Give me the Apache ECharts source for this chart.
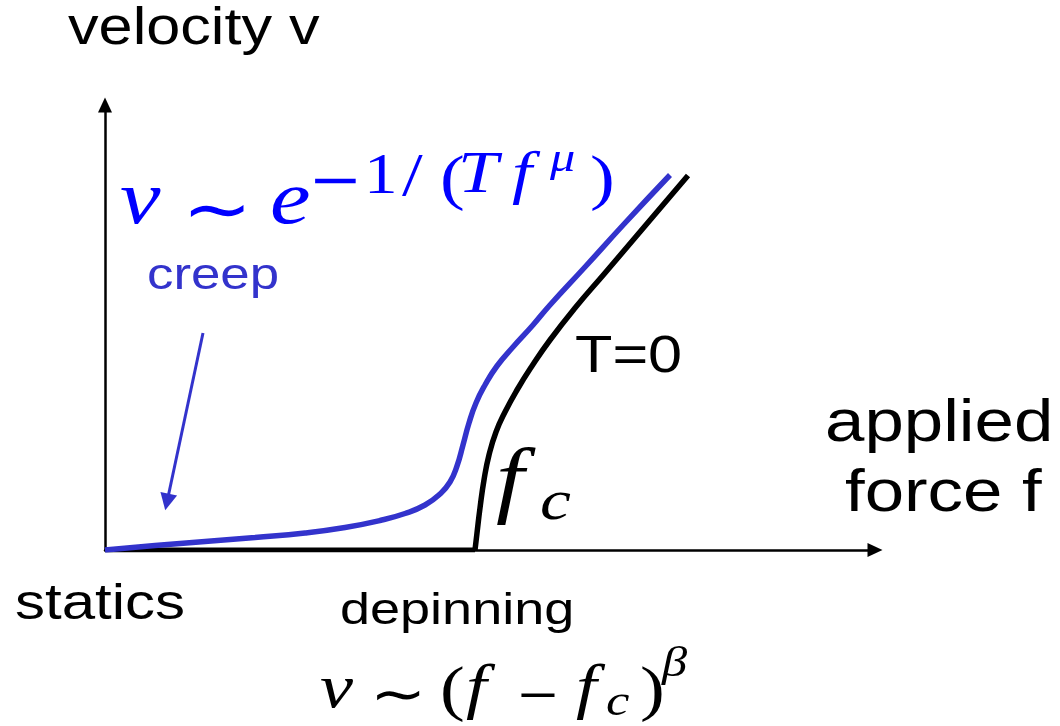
<!DOCTYPE html>
<html>
<head>
<meta charset="utf-8">
<script src="https://cdn.jsdelivr.net/npm/echarts@6/dist/echarts.min.js"></script>
<style>
  html, body { margin: 0; padding: 0; background: #fff; }
  #chart { width: 1060px; height: 726px; }
</style>
</head>
<body>
<div id="chart"></div>
<script>
// Velocity v versus applied force f (arbitrary units).
// T = 0: no motion below the threshold fc, then the depinning branch.
const staticBranch = [[0, 0], [3.70, 0]];
const depinningBranch = [
  [3.70, 0], [3.72, 0.17], [3.75, 0.42], [3.79, 0.70], [3.84, 0.95],
  [3.91, 1.18], [4.00, 1.38], [4.12, 1.60], [4.27, 1.84], [4.45, 2.10],
  [4.70, 2.42], [5.00, 2.77], [5.40, 3.24], [5.83, 3.745]
];
// Finite temperature: thermally activated creep below fc.
const creepCurve = [
  [0, 0], [0.5, 0.045], [1.0, 0.085], [1.5, 0.125], [2.0, 0.17],
  [2.4, 0.225], [2.75, 0.295], [3.0, 0.365], [3.2, 0.45], [3.35, 0.56],
  [3.45, 0.68], [3.52, 0.84], [3.58, 1.05], [3.64, 1.27], [3.71, 1.47],
  [3.80, 1.65], [3.92, 1.84], [4.08, 2.03], [4.28, 2.25], [4.45, 2.45],
  [4.80, 2.83], [5.20, 3.27], [5.65, 3.75]
];
// Pointer from the "creep" label down to the creep regime.
const creepPointer = [[0.98, 2.17], [0.62, 0.48]];

const BLUE_LINE = '#3333cc';
const BLUE_MATH = '#0000ff';
const SANS = '"Liberation Sans", Arial, sans-serif';
const SERIF = '"Liberation Serif", "Times New Roman", serif';
const STRETCH = 1.2;

// Text placed by its left edge and baseline.
function txt(text, left, baseline, size, o) {
  o = o || {};
  const y = o.mid != null ? o.mid : baseline - 0.34 * size;
  return {
    type: 'text', x: left, y: y, scaleX: o.sx || STRETCH, silent: true, z: 20,
    style: {
      text: text, x: 0, y: 0,
      fill: o.color || '#000',
      fontSize: size,
      fontFamily: o.family || SANS,
      fontStyle: o.italic ? 'italic' : 'normal',
      align: 'left', verticalAlign: 'middle'
    }
  };
}
function mi(text, left, baseline, size, color) {
  return txt(text, left, baseline, size, { family: SERIF, italic: true, color: color });
}
function mu(text, left, baseline, size, color) {
  return txt(text, left, baseline, size, { family: SERIF, color: color });
}
function sym(text, left, mid, size, color) {
  return txt(text, left, 0, size, { family: '"DejaVu Sans", sans-serif', mid: mid, color: color });
}

const chart = echarts.init(document.getElementById('chart'));

const axisCommon = {
  type: 'value',
  axisLine: {
    show: true, onZero: true,
    symbol: ['none', 'triangle'], symbolSize: [14, 15],
    lineStyle: { color: '#000', width: 2.5 }
  },
  axisTick: { show: false },
  axisLabel: { show: false },
  splitLine: { show: false }
};

chart.setOption({
  animation: false,
  backgroundColor: '#fff',
  grid: { left: 105, right: 185, top: 105, bottom: 176, containLabel: false },
  xAxis: Object.assign({}, axisCommon, { min: 0, max: 7.7 }),
  yAxis: Object.assign({}, axisCommon, { min: 0, max: 4.45 }),
  series: [
    {
      type: 'line', data: staticBranch, symbol: 'none',
      lineStyle: { color: '#000', width: 5 }, z: 3
    },
    {
      type: 'line', data: depinningBranch, symbol: 'none', smooth: 0.5,
      lineStyle: { color: '#000', width: 5.5 }, z: 3
    },
    {
      type: 'line', data: creepCurve, symbol: 'none', smooth: 0.5,
      lineStyle: { color: BLUE_LINE, width: 5.5 }, z: 4
    },
    {
      type: 'lines', coordinateSystem: 'cartesian2d',
      data: [{ coords: creepPointer }],
      symbol: ['none', 'triangle'], symbolSize: [14, 17],
      lineStyle: { color: BLUE_LINE, width: 3, opacity: 1 },
      z: 4
    }
  ],
  graphic: [
    // axis titles and regime names
    txt('velocity v', 68, 47, 51),
    txt('applied', 825, 445, 59),
    txt('force f', 845, 515, 59),
    txt('statics', 15, 622, 50),
    txt('depinning', 340, 627, 45),
    txt('creep', 147, 292, 44, { color: BLUE_LINE }),
    txt('T=0', 575, 375, 51),

    // v ~ e^{-1/(T f^mu)}
    mi('v', 120, 229, 76, BLUE_MATH),
    sym('\u223C', 182, 215, 70, BLUE_MATH),
    mi('e', 270, 229, 76, BLUE_MATH),
    sym('\u2212', 308, 184, 54, BLUE_MATH),
    mu('1', 364, 197, 56, BLUE_MATH),
    mu('/', 402, 200, 62, BLUE_MATH),
    mu('(', 440, 203, 62, BLUE_MATH),
    mi('T', 458, 197, 60, BLUE_MATH),
    mi('f', 512, 197, 60, BLUE_MATH),
    mi('\u03BC', 550, 174, 42, BLUE_MATH),
    mu(')', 590, 203, 62, BLUE_MATH),

    // f_c at the threshold
    mi('f', 496, 513, 84),
    mi('c', 540, 523, 58),

    // v ~ (f - f_c)^beta
    mi('v', 320, 712, 62),
    sym('\u223C', 370, 698, 56),
    mu('(', 440, 714, 62),
    mi('f', 466, 712, 62),
    sym('\u2212', 516, 698, 44),
    mi('f', 576, 712, 62),
    mi('c', 606, 718, 44),
    mu(')', 640, 714, 62),
    mi('\u03B2', 662, 679, 42)
  ]
});
</script>
</body>
</html>
